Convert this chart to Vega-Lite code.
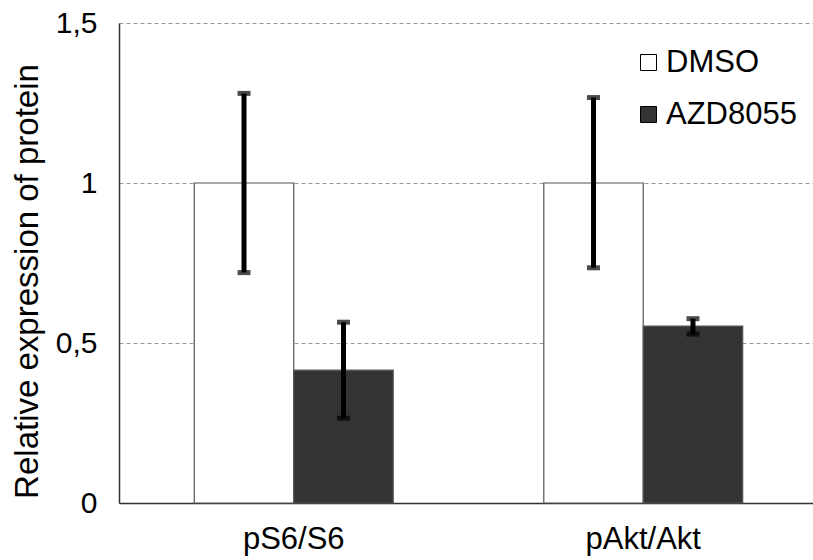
{
  "$schema": "https://vega.github.io/schema/vega-lite/v6.json",
  "width": 694,
  "height": 480,
  "autosize": {"type": "none"},
  "padding": {"left": 119, "top": 23, "right": 0, "bottom": 57},
  "background": "white",
  "config": {
    "view": {"stroke": null},
    "font": "Liberation Sans"
  },
  "data": {
    "values": [
      {"target": "pS6/S6", "treatment": "DMSO", "value": 1.0, "lo": 0.72, "hi": 1.28},
      {"target": "pS6/S6", "treatment": "AZD8055", "value": 0.415, "lo": 0.265, "hi": 0.565},
      {"target": "pAkt/Akt", "treatment": "DMSO", "value": 1.0, "lo": 0.735, "hi": 1.267},
      {"target": "pAkt/Akt", "treatment": "AZD8055", "value": 0.553, "lo": 0.528, "hi": 0.576}
    ]
  },
  "encoding": {
    "x": {
      "field": "target", "type": "nominal", "sort": ["pS6/S6", "pAkt/Akt"],
      "scale": {"paddingInner": 0, "paddingOuter": 0, "range": [0, 699]},
      "axis": {
        "title": null, "labelAngle": 0, "ticks": false, "labelFontSize": 31,
        "labelColor": "#000", "labelPadding": 21, "domainColor": "#333", "domainWidth": 1.5
      }
    },
    "xOffset": {
      "field": "treatment", "type": "nominal", "sort": ["DMSO", "AZD8055"],
      "scale": {"paddingInner": 0, "paddingOuter": 0.757}
    }
  },
  "layer": [
    {
      "mark": {"type": "bar", "stroke": "#555", "strokeWidth": 1.2},
      "encoding": {
        "y": {
          "field": "value", "type": "quantitative",
          "scale": {"domain": [0, 1.5], "nice": false},
          "axis": {
            "title": "Relative expression of protein", "titleFontSize": 33, "titleFontWeight": "normal",
            "titleColor": "#000", "titlePadding": 11, "titleY": 258,
            "values": [0, 0.5, 1, 1.5], "labelExpr": "replace(datum.label, '.', ',')",
            "format": "", "labelFontSize": 30, "labelColor": "#000", "labelPadding": 22, "ticks": false,
            "domainColor": "#333", "domainWidth": 1.5,
            "grid": true, "gridColor": "#999", "gridDash": [4, 3], "gridWidth": 1
          }
        },
        "fill": {
          "field": "treatment", "type": "nominal", "sort": ["DMSO", "AZD8055"],
          "scale": {"domain": ["DMSO", "AZD8055"], "range": ["#ffffff", "#333333"]},
          "legend": {
            "title": null, "orient": "none", "legendX": 514, "legendY": 24,
            "symbolType": "square", "symbolSize": 256, "symbolStrokeColor": "#000", "symbolStrokeWidth": 1,
            "labelFontSize": 31, "labelColor": "#000", "labelOffset": 2, "rowPadding": 20, "padding": 0
          }
        }
      }
    },
    {
      "mark": {"type": "rule", "color": "#000", "strokeWidth": 5},
      "encoding": {
        "y": {"field": "lo", "type": "quantitative"},
        "y2": {"field": "hi"}
      }
    },
    {
      "mark": {"type": "tick", "color": "#000", "size": 13, "thickness": 5, "orient": "horizontal"},
      "encoding": {"y": {"field": "lo", "type": "quantitative"}}
    },
    {
      "mark": {"type": "tick", "color": "#000", "size": 13, "thickness": 5, "orient": "horizontal"},
      "encoding": {"y": {"field": "hi", "type": "quantitative"}}
    }
  ]
}
